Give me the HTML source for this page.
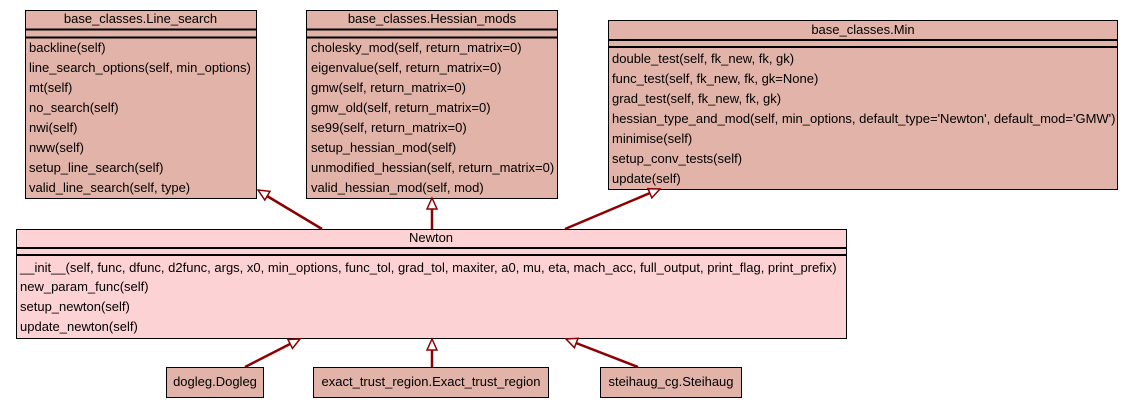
<!DOCTYPE html>
<html><head><meta charset="utf-8"><style>
html,body{margin:0;padding:0;background:#fff;}
svg{display:block;}
text{font-family:"Liberation Sans",Arial,sans-serif;font-size:13px;fill:#000;}
</style></head><body>
<svg width="1133" height="408" viewBox="0 0 1133 408" xmlns="http://www.w3.org/2000/svg">
<g stroke="#000" stroke-width="1">
<rect x="25.5" y="10.5" width="231" height="188" fill="#e2b3a8"/>
<line x1="25" y1="29.5" x2="257" y2="29.5" stroke-width="2"/>
<line x1="25" y1="37.5" x2="257" y2="37.5" stroke-width="2"/>
<rect x="306.5" y="10.5" width="251" height="188" fill="#e2b3a8"/>
<line x1="306" y1="29.5" x2="558" y2="29.5" stroke-width="2"/>
<line x1="306" y1="37.5" x2="558" y2="37.5" stroke-width="2"/>
<rect x="608.5" y="20.5" width="509" height="169" fill="#e2b3a8"/>
<line x1="608" y1="40" x2="1118" y2="40" stroke-width="2"/>
<line x1="608" y1="47" x2="1118" y2="47" stroke-width="2"/>
<rect x="16.5" y="229.5" width="830" height="109" fill="#fcd2d4"/>
<line x1="16" y1="248" x2="847" y2="248" stroke-width="2"/>
<line x1="16" y1="255" x2="847" y2="255" stroke-width="2"/>
<rect x="166.5" y="367.5" width="97" height="30" fill="#e2b3a8"/>
<rect x="313.5" y="367.5" width="235" height="30" fill="#e2b3a8"/>
<rect x="600.5" y="367.5" width="141" height="30" fill="#e2b3a8"/>
</g>
<g stroke="#8b0000" stroke-width="2.5" fill="none">
<line x1="322" y1="229" x2="267" y2="196"/>
<line x1="432" y1="229" x2="432" y2="209"/>
<line x1="565" y1="229" x2="650" y2="193"/>
<line x1="245" y1="367" x2="290" y2="344"/>
<line x1="432" y1="367" x2="432" y2="350"/>
<line x1="638" y1="367" x2="576" y2="343"/>
</g>
<g stroke="#8b0000" stroke-width="1.5" fill="#fff">
<polygon points="258,190 270,191.4 264.8,200"/>
<polygon points="432,198 427,209 437,209"/>
<polygon points="660,189 651.8,197.9 648,188.7"/>
<polygon points="300,339 292.5,348.4 287.9,339.5"/>
<polygon points="432,339 427,350 437,350"/>
<polygon points="566,339 574.4,347.7 578,338.3"/>
</g>
<text x="140.5" y="23" text-anchor="middle">base_classes.Line_search</text>
<text x="29" y="52">backline(self)</text>
<text x="29" y="72">line_search_options(self, min_options)</text>
<text x="29" y="92">mt(self)</text>
<text x="29" y="112">no_search(self)</text>
<text x="29" y="132">nwi(self)</text>
<text x="29" y="152">nww(self)</text>
<text x="29" y="172">setup_line_search(self)</text>
<text x="29" y="192">valid_line_search(self, type)</text>
<text x="432" y="23" text-anchor="middle">base_classes.Hessian_mods</text>
<text x="311" y="52">cholesky_mod(self, return_matrix=0)</text>
<text x="311" y="72">eigenvalue(self, return_matrix=0)</text>
<text x="311" y="92">gmw(self, return_matrix=0)</text>
<text x="311" y="112">gmw_old(self, return_matrix=0)</text>
<text x="311" y="132">se99(self, return_matrix=0)</text>
<text x="311" y="152">setup_hessian_mod(self)</text>
<text x="311" y="172">unmodified_hessian(self, return_matrix=0)</text>
<text x="311" y="192">valid_hessian_mod(self, mod)</text>
<text x="863" y="34" text-anchor="middle">base_classes.Min</text>
<text x="612" y="63">double_test(self, fk_new, fk, gk)</text>
<text x="612" y="83">func_test(self, fk_new, fk, gk=None)</text>
<text x="612" y="103">grad_test(self, fk_new, fk, gk)</text>
<text x="612" y="123">hessian_type_and_mod(self, min_options, default_type='Newton', default_mod='GMW')</text>
<text x="612" y="143">minimise(self)</text>
<text x="612" y="163">setup_conv_tests(self)</text>
<text x="612" y="183">update(self)</text>
<text x="431" y="242" text-anchor="middle">Newton</text>
<text x="20" y="272">__init__(self, func, dfunc, d2func, args, x0, min_options, func_tol, grad_tol, maxiter, a0, mu, eta, mach_acc, full_output, print_flag, print_prefix)</text>
<text x="20" y="291">new_param_func(self)</text>
<text x="20" y="311">setup_newton(self)</text>
<text x="20" y="331">update_newton(self)</text>
<text x="215" y="386" text-anchor="middle">dogleg.Dogleg</text>
<text x="431" y="386" text-anchor="middle">exact_trust_region.Exact_trust_region</text>
<text x="671" y="386" text-anchor="middle">steihaug_cg.Steihaug</text>
</svg>
</body></html>
